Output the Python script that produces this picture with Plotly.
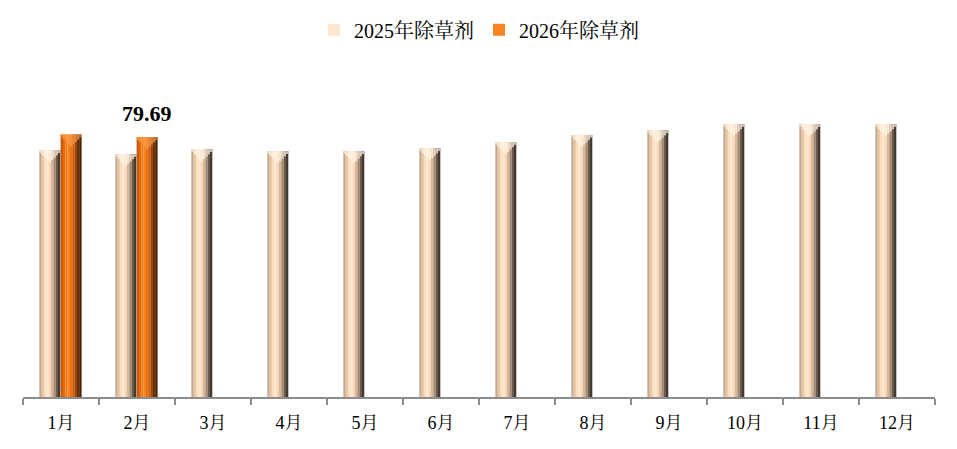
import plotly.graph_objects as go

# data
months = ["1月", "2月", "3月", "4月", "5月", "6月", "7月", "8月", "9月", "10月", "11月", "12月"]
herb_2025 = [75.7, 74.5, 76.0, 75.4, 75.4, 76.3, 78.2, 80.4, 81.8, 83.7, 83.7, 83.7]
herb_2026 = [80.5, 79.69, None, None, None, None, None, None, None, None, None, None]
series_names = ["2025年除草剂", "2026年除草剂"]

# horizontal shading strips (left -> right) to mimic the bevelled bars
shade_2025 = ["#c4a68a", "#e6c7a7", "#fbdcbd", "#ffe6cc", "#f6d6b6", "#d9b999", "#a88d74", "#6e5c4b", "#463a30"]
shade_2026 = ["#c95a0c", "#e36a0e", "#f47a14", "#f88322", "#ec7010", "#cc5c08", "#9c4606", "#6a3004", "#4a2202"]
cap_2025 = "#fff6e8"
cap_2026 = "#fb9e4c"


def blend(c1, c2, t):
    a = [int(c1[i:i + 2], 16) for i in (1, 3, 5)]
    b = [int(c2[i:i + 2], 16) for i in (1, 3, 5)]
    return "#%02x%02x%02x" % tuple(round(a[j] + (b[j] - a[j]) * t) for j in range(3))


bar_w = 0.275
offsets = [-0.285, -0.005]
cap_h = 3.2

fig = go.Figure()

for s, (vals, shades, cap, name) in enumerate(zip([herb_2025, herb_2026], [shade_2025, shade_2026],
                                                  [cap_2025, cap_2026], series_names)):
    n = len(shades)
    strip = bar_w / n
    for k, col in enumerate(shades):
        fig.add_trace(go.Bar(
            x=months, y=vals,
            name=name,
            legendgroup=name,
            showlegend=(k == 3),
            marker=dict(color=col, line=dict(width=0)),
            offset=offsets[s] + k * strip,
            width=strip * 1.03,
            hoverinfo="skip" if k != 3 else None,
        ))
    # V-shaped lighter top face
    for k, col in enumerate(shades):
        c = abs((k + 0.5) / n * 2 - 1)
        h = cap_h * (1 - c) + 0.5
        fig.add_trace(go.Bar(
            x=months, y=[h if v is not None else None for v in vals],
            base=[v - h if v is not None else None for v in vals],
            showlegend=False, hoverinfo="skip",
            marker=dict(color=blend(col, cap, 0.7), line=dict(width=0)),
            offset=offsets[s] + k * strip,
            width=strip * 1.03,
        ))

# value label on Feb 2026
fig.add_annotation(
    x=months[1], y=herb_2026[1], text="<b>79.69</b>",
    showarrow=False, xshift=0.1375 * 76, yshift=24,
    font=dict(family="Liberation Serif, serif", size=22, color="#000000"),
)

fig.update_layout(
    width=957, height=449,
    margin=dict(l=23, r=22, t=71, b=52),
    plot_bgcolor="white", paper_bgcolor="white",
    barmode="overlay",
    font=dict(family="Liberation Serif, Noto Serif CJK SC, Noto Sans CJK SC, serif", size=18, color="#000000"),
    legend=dict(
        orientation="h", x=0.5, xanchor="center", y=0.977, yanchor="top",
        yref="container", font=dict(size=20), itemwidth=30, tracegroupgap=0,
    ),
    xaxis=dict(
        showline=True, linecolor="#8c8c8c", linewidth=1.5,
        ticks="outside", tickson="boundaries", ticklen=6, tickcolor="#8c8c8c", tickwidth=1.5,
        showgrid=False, zeroline=False, tickfont=dict(size=18), ticklabelstandoff=9,
    ),
    yaxis=dict(range=[0, 100], visible=False, showgrid=False, zeroline=False),
)

fig.write_html("out.html", config={"displayModeBar": False},
               post_script="document.body.style.margin='0';")
